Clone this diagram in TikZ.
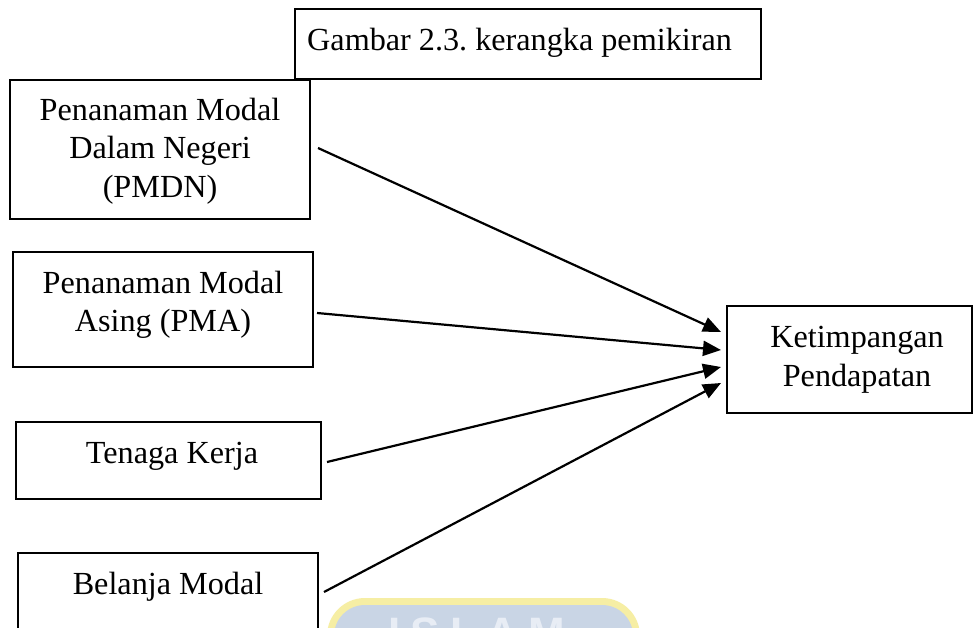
\documentclass[tikz,border=0pt]{standalone}
\usepackage{fontspec}
\setmainfont{Liberation Serif}
\newfontfamily\wmfont{Liberation Sans}
\usetikzlibrary{arrows.meta}
\definecolor{wmyellow}{HTML}{F6EEA4}
\definecolor{wmblue}{HTML}{C9D5E5}
\definecolor{wmtext}{HTML}{E8EDF5}
\frenchspacing
\begin{document}
\begin{tikzpicture}[x=1pt,y=-1pt,
  box/.style={draw, line width=2pt, rectangle, inner sep=0pt, outer sep=0pt},
  lbl/.style={font=\fontsize{32.2}{38.5}\selectfont, align=center, inner sep=0pt},
  arr/.style={line width=2.2pt, -{Triangle[length=18pt,width=15pt]}}]
\useasboundingbox (0,0) rectangle (973,628);
\clip (0,0) rectangle (973,628);
\fill[white] (0,0) rectangle (973,628);
% watermark (partly visible at the bottom)
\fill[wmyellow, rounded corners=38pt] (327,680) -- (327,598) -- (640,598) -- (640,680) -- cycle;
\fill[wmblue, rounded corners=31pt] (334,680) -- (334,605) -- (633,605) -- (633,680) -- cycle;
\node[font=\wmfont\bfseries\fontsize{44}{44}\selectfont, text=wmtext, anchor=north, inner sep=0pt] (wm) at (477,618) {I\hspace{10pt}S\hspace{10pt}L\hspace{10pt}A\hspace{10pt}M};
% boxes
\node[box, minimum width=466pt, minimum height=70pt] (title) at (528,44) {};
\node[box, minimum width=300pt, minimum height=139pt] (pmdn) at (160,149.5) {};
\node[box, minimum width=300pt, minimum height=115pt] (pma) at (163,309.5) {};
\node[box, minimum width=305pt, minimum height=77pt] (tk) at (168.5,460.5) {};
\node[box, minimum width=300pt, minimum height=107pt] (bm) at (168,606.5) {};
\node[box, minimum width=245pt, minimum height=107pt] (ket) at (849.5,359.5) {};
% texts
\node[lbl, anchor=base west] (titleT) at (307,51) {Gambar 2.3. kerangka pemikiran};
\node[lbl] (pmdnT) at (160,151) {Penanaman Modal\\Dalam Negeri\\(PMDN)};
\node[lbl] (pmaT) at (163,305) {Penanaman Modal\\Asing (PMA)};
\node[lbl, anchor=base] (tkT) at (172,463) {Tenaga Kerja};
\node[lbl, anchor=base] (bmT) at (168,594) {Belanja Modal};
\node[lbl] (ketT) at (857,360) {Ketimpangan\\Pendapatan};
% connector ends
\coordinate (s1) at (318,148);
\coordinate (s2) at (317,313);
\coordinate (s3) at (327,462);
\coordinate (s4) at (324,592);
\coordinate (e1) at (721,332);
\coordinate (e2) at (721,350);
\coordinate (e3) at (721,367);
\coordinate (e4) at (721,383);
\draw[arr] (s1) -- (e1);
\draw[arr] (s2) -- (e2);
\draw[arr] (s3) -- (e3);
\draw[arr] (s4) -- (e4);
\end{tikzpicture}
\end{document}
